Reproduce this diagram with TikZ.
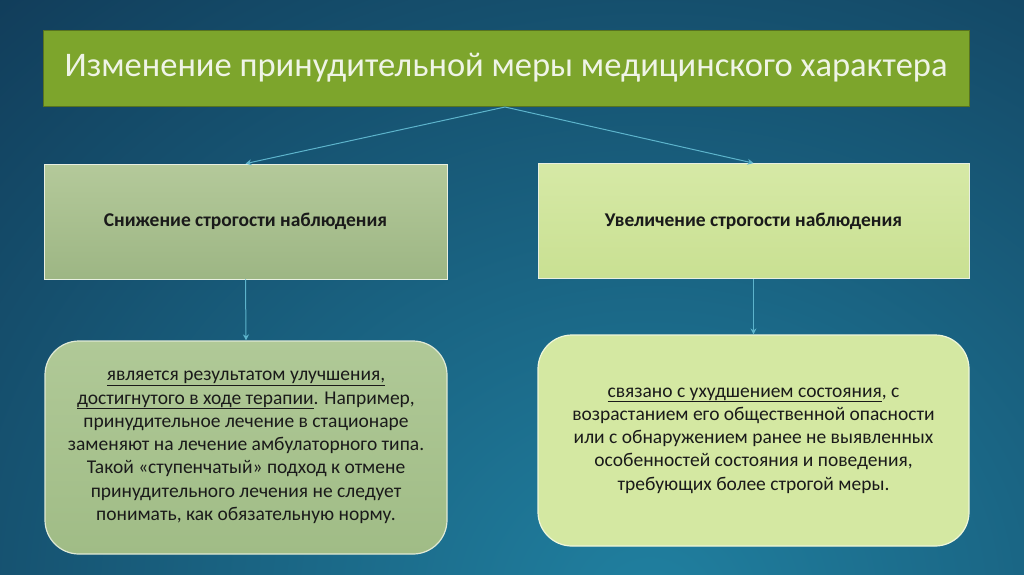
\documentclass[tikz,border=0pt]{standalone}
\usepackage{fontspec}
\setmainfont{Carlito}
\usetikzlibrary{arrows.meta,shadows}
\definecolor{bgdark}{HTML}{0F3350}
\definecolor{bglight}{HTML}{2080A0}
\definecolor{titlegreen}{HTML}{7DA52C}
\definecolor{leftA}{HTML}{B4C99A}
\definecolor{leftB}{HTML}{9DB684}
\definecolor{rightA}{HTML}{D6E9A6}
\definecolor{rightB}{HTML}{C9E092}
\definecolor{botleftA}{HTML}{B0C997}
\definecolor{botleftB}{HTML}{A0BC86}
\definecolor{botright}{HTML}{D4E8A2}
\definecolor{arrowc}{HTML}{5DB4CC}
\definecolor{txt}{HTML}{1A1A1A}
\tikzset{
  conn/.style={draw=arrowc, line width=1pt, -{Stealth[length=6pt,width=6pt]}},
  topbox/.style={minimum width=403pt, minimum height=115pt, draw=white!70!leftA, line width=0.8pt, text=txt, font=\fontsize{19.5}{23}\selectfont\bfseries},
  botbox/.style={rounded corners=34pt, draw=white!60!botleftA, line width=1.2pt, text=txt, align=center, font=\fontsize{19.5}{23.3}\selectfont},
}
\begin{document}
\begin{tikzpicture}[x=1pt,y=-1pt]
\useasboundingbox (0,0) rectangle (1024,574);
\begin{scope}
\clip (0,0) rectangle (1024,574);
\shade[inner color=bglight, outer color=bgdark] (-450,-350) rectangle (1750,1550);
\end{scope}
% title
\node[fill=titlegreen, draw=titlegreen!70!black, line width=0.6pt, minimum width=926pt, minimum height=76pt,
      text=white!88!titlegreen, font=\fontsize{34.5}{40}\selectfont] (title) at (506,68)
  {Изменение принудительной меры медицинского характера};
% top boxes
\node[topbox, top color=leftA, bottom color=leftB] (lt) at (245.5,221.5) {Снижение строгости наблюдения};
\node[topbox, minimum width=431pt, top color=rightA, bottom color=rightB] (rt) at (753.5,221) {Увеличение строгости наблюдения};
% bottom boxes
\node[botbox, top color=botleftA, bottom color=botleftB, minimum width=402pt, minimum height=213pt] (lb) at (246,447.5)
  {\underline{является результатом улучшения,}\\
   \underline{достигнутого в ходе терапии}. Например,\\
   принудительное лечение в стационаре\\
   заменяют на лечение амбулаторного типа.\\
   Такой «ступенчатый» подход к отмене\\
   принудительного лечения не следует\\
   понимать, как обязательную норму.};
\node[botbox, fill=botright, draw=white!60!botright, minimum width=431pt, minimum height=211pt] (rb) at (753.5,440.5)
  {\underline{связано с ухудшением состояния}, с\\
   возрастанием его общественной опасности\\
   или с обнаружением ранее не выявленных\\
   особенностей состояния и поведения,\\
   требующих более строгой меры.};
% connectors
\coordinate (tb) at (505,107);
\draw[conn] (tb) -- (lt.north);
\draw[conn] (tb) -- (rt.north);
\draw[conn] (lt.south) -- (lb.north);
\draw[conn] (rt.south) -- (rb.north);
\end{tikzpicture}
\end{document}
